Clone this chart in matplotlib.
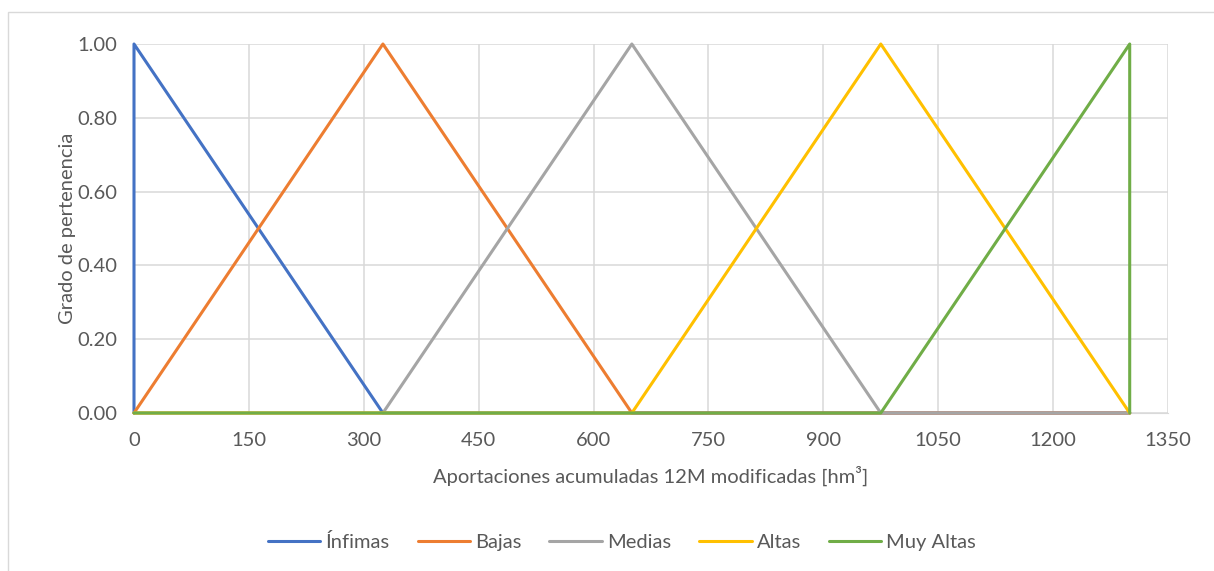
import matplotlib
matplotlib.use("Agg")
import matplotlib.pyplot as plt
from matplotlib.patches import Rectangle

# Membership functions of the accumulated-inflow classes
series_names = ["Ínfimas", "Bajas", "Medias", "Altas", "Muy Altas"]
infimas_x = [0, 0, 325, 1300]
infimas_y = [0.0, 1.0, 0.0, 0.0]
bajas_x = [0, 325, 650, 1300]
bajas_y = [0.0, 1.0, 0.0, 0.0]
medias_x = [0, 325, 650, 975, 1300]
medias_y = [0.0, 0.0, 1.0, 0.0, 0.0]
altas_x = [0, 650, 975, 1300]
altas_y = [0.0, 0.0, 1.0, 0.0]
muy_altas_x = [0, 975, 1300, 1300]
muy_altas_y = [0.0, 0.0, 1.0, 0.0]

x_ticks = [0, 150, 300, 450, 600, 750, 900, 1050, 1200, 1350]
y_ticks = [0.0, 0.2, 0.4, 0.6, 0.8, 1.0]

colors = ["#4472C4", "#ED7D31", "#A5A5A5", "#FFC000", "#70AD47"]
text_color = "#595959"
grid_color = "#D9D9D9"
fs = 14.5

plt.rcParams["font.family"] = ["Lato", "DejaVu Sans"]

W, H = 1214, 571
fig = plt.figure(figsize=(W / 100, H / 100), dpi=100)
ax = fig.add_axes([134 / W, 1 - 413 / H, (1168 - 134) / W, (413 - 44) / H])

# chart-area frame
fig.patches.append(Rectangle((8 / W, -0.05), 1.2, 1 - 12 / H + 0.05,
                             transform=fig.transFigure, fill=False,
                             edgecolor="#D9D9D9", linewidth=1.0))

xs = [infimas_x, bajas_x, medias_x, altas_x, muy_altas_x]
ys = [infimas_y, bajas_y, medias_y, altas_y, muy_altas_y]
for i, (name, x, y, c) in enumerate(zip(series_names, xs, ys, colors)):
    ax.plot(x, y, color=c, linewidth=2.2, label=name, clip_on=False,
            solid_joinstyle="round", solid_capstyle="round", zorder=3 + i)

ax.set_xlim(0, 1350)
ax.set_ylim(0, 1.0)
ax.set_xticks(x_ticks)
ax.set_yticks(y_ticks)
ax.set_yticklabels([f"{v:.2f}" for v in y_ticks])
ax.grid(True, color=grid_color, linewidth=1.1)
ax.set_axisbelow(True)
for s in ax.spines.values():
    s.set_visible(False)
ax.spines["bottom"].set_visible(True)
ax.spines["bottom"].set_color(grid_color)
ax.tick_params(length=0, labelsize=fs, labelcolor=text_color)
ax.tick_params(axis="x", pad=14)
ax.tick_params(axis="y", pad=12)

ax.set_xlabel("Aportaciones acumuladas 12M modificadas [hm³]",
              fontsize=fs, color=text_color, labelpad=12)
ax.set_ylabel("Grado de pertenencia", fontsize=fs, color=text_color, labelpad=1)

leg = fig.legend(loc="center", bbox_to_anchor=(622 / W, 1 - 542 / H), ncol=5,
                 frameon=False, fontsize=fs, handlelength=2.6,
                 handletextpad=0.25, columnspacing=1.4)
for t in leg.get_texts():
    t.set_color(text_color)

fig.savefig("out.png", dpi=100)
